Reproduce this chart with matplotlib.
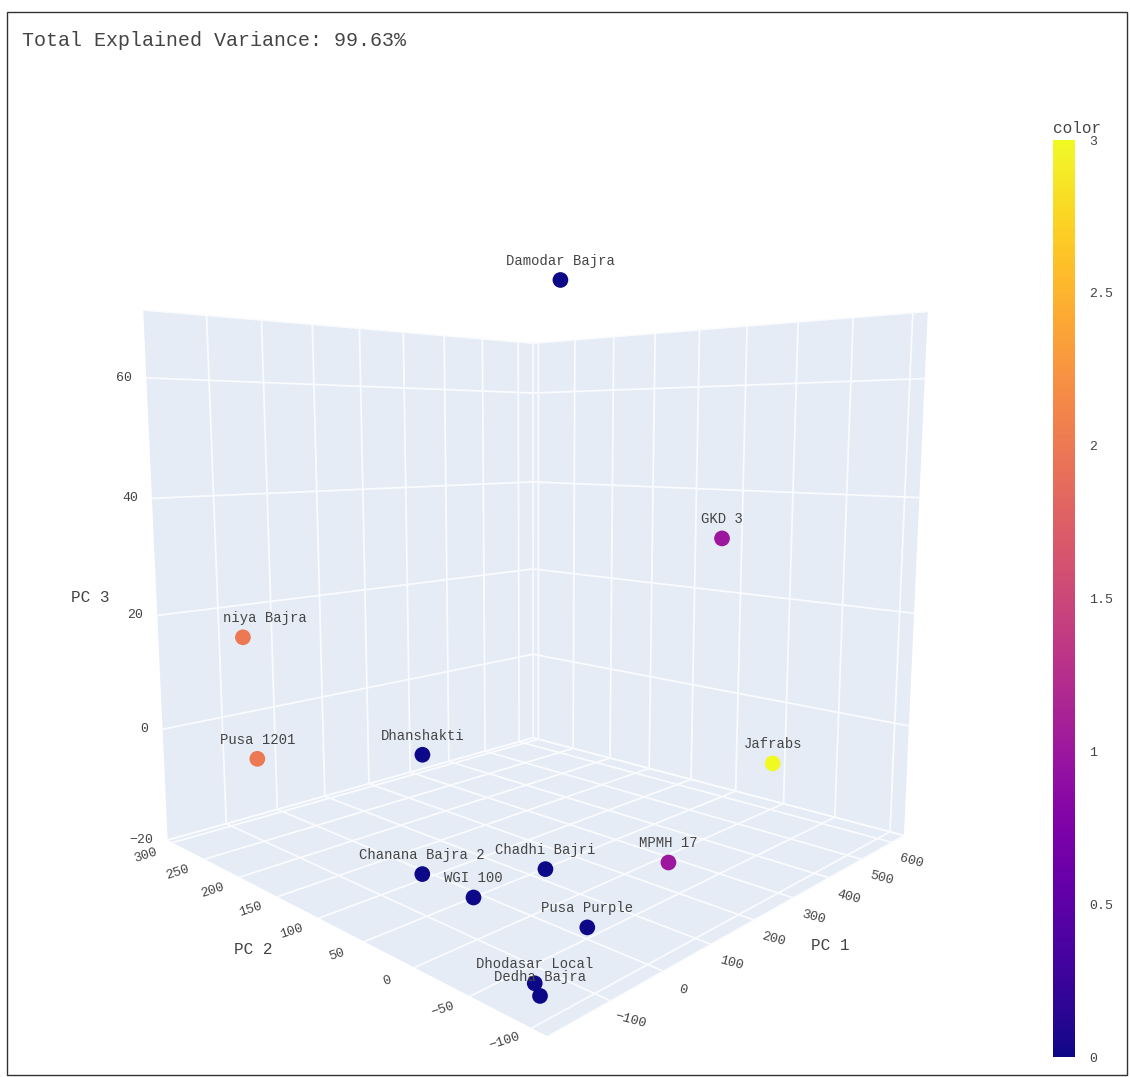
import matplotlib
matplotlib.use('Agg')
import matplotlib.pyplot as plt
from matplotlib.patches import Rectangle
from mpl_toolkits.mplot3d import proj3d

W, H = 1130, 1077

names = ['Damodar Bajra', 'GKD 3', 'niya Bajra', 'Pusa 1201', 'Dhanshakti', 'Jafrabs',
         'Chanana Bajra 2', 'WGI 100', 'Chadhi Bajri', 'MPMH 17', 'Pusa Purple',
         'Dhodasar Local', 'Dedha Bajra']
pc1 = [-36, 346, -81, -75, 21, 600, -102, -78.5, 58, 219, -27.5, -149, -153.5]
pc2 = [-42, -30, 287, 276.5, 124, -1, 53, 15, 14, -33, -62.5, -75, -81.4]
pc3 = [70.4, 34.0, 15.0, -6.9, -1.5, -10.9, -13.6, -15.5, -15.5, -16.6, -16.4, -18.6, -19.6]
cluster = [0, 1, 2, 2, 0, 3, 0, 0, 0, 1, 0, 0, 0]

x_range = (-206, 643)
y_range = (-112, 308)
z_range = (-20, 71)
x_ticks = [-100, 0, 100, 200, 300, 400, 500, 600]
y_ticks = [-100, -50, 0, 50, 100, 150, 200, 250, 300]
z_ticks = [-20, 0, 20, 40, 60]
cbar_ticks = [0, 0.5, 1, 1.5, 2, 2.5, 3]
cbar_labels = ['0', '0.5', '1', '1.5', '2', '2.5', '3']

MONO = ['Liberation Mono', 'DejaVu Sans Mono']
plt.rcParams['font.family'] = MONO
TXT = '#444444'
PANE = (229/255, 236/255, 246/255, 1.0)
GRID = (250/255, 251/255, 254/255, 1.0)


def fx(px):
    return px / W


def fy(py):
    return 1 - py / H


def tlab(v):
    return str(v).replace('-', '\u2212')


fig = plt.figure(figsize=(W/100, H/100), dpi=100)
ax = fig.add_axes([24.4/W, -19.2/H, 1000/W, 1000/H], projection='3d')
ax.patch.set_visible(False)
ax.set_proj_type('persp', focal_length=0.20424)
ax.view_init(elev=7.6, azim=-136)
ax.set_box_aspect((1, 1, 0.9884), zoom=0.8998)

sc = ax.scatter(pc1, pc2, pc3, c=cluster, cmap='plasma', vmin=0, vmax=3,
                s=128, depthshade=False, edgecolors='none', alpha=1)

ax.set_xticks(x_ticks)
ax.set_yticks(y_ticks)
ax.set_zticks(z_ticks)
ax.set_xticklabels([''] * len(x_ticks))
ax.set_yticklabels([''] * len(y_ticks))
ax.set_zticklabels([''] * len(z_ticks))
ax.set_xlim(*x_range)
ax.set_ylim(*y_range)
ax.set_zlim(*z_range)

for axis in (ax.xaxis, ax.yaxis, ax.zaxis):
    axis.set_pane_color(PANE)
    axis.pane.set_edgecolor(GRID)
    axis.line.set_color((0, 0, 0, 0))
    axis._axinfo['grid'].update(color=GRID, linewidth=1.3)
    axis._axinfo['tick'].update(inward_factor=0, outward_factor=0)

fig.canvas.draw()
M = ax.get_proj()

# point labels, placed through the axes' own 3D projection
px2, py2, _ = proj3d.proj_transform(pc1, pc2, pc3, M)
for n, a, b in zip(names, px2, py2):
    if n == 'niya Bajra':
        ax.annotate(n, (a, b), xytext=(-20, 19), textcoords='offset pixels',
                    ha='left', va='center', fontsize=10, color=TXT, annotation_clip=False)
    else:
        ax.annotate(n, (a, b), xytext=(0, 19), textcoords='offset pixels',
                    ha='center', va='center', fontsize=10, color=TXT, annotation_clip=False)

# tick labels at the projected tick positions
tk = dict(textcoords='offset pixels', fontsize=9.5, color=TXT, annotation_clip=False,
          va='center')
n = len(x_ticks)
xa, xb, _ = proj3d.proj_transform(x_ticks, [y_range[0]] * n, [z_range[0]] * n, M)
for v, a, b in zip(x_ticks, xa, xb):
    ax.annotate(tlab(v), (a, b), xytext=(20, -19), ha='center', rotation=-15, **tk)
n = len(y_ticks)
ya, yb, _ = proj3d.proj_transform([x_range[0]] * n, y_ticks, [z_range[0]] * n, M)
for v, a, b in zip(y_ticks, ya, yb):
    ax.annotate(tlab(v), (a, b), xytext=(-27, -13), ha='center', rotation=18, **tk)
n = len(z_ticks)
za, zb, _ = proj3d.proj_transform([x_range[0]] * n, [y_range[1]] * n, z_ticks, M)
for v, a, b in zip(z_ticks, za, zb):
    ax.annotate(tlab(v), (a, b), xytext=(-14, 0), ha='right', **tk)

# axis titles
fig.text(fx(90), fy(597), 'PC 3', ha='center', va='center', fontsize=11.5, color=TXT)
fig.text(fx(253), fy(950), 'PC 2', ha='center', va='center', fontsize=11.5, color=TXT)
fig.text(fx(830), fy(945), 'PC 1', ha='center', va='center', fontsize=11.5, color=TXT)

# colorbar
cax = fig.add_axes([1053/W, fy(1057), 22/W, 917/H])
cb = fig.colorbar(sc, cax=cax, ticks=cbar_ticks)
cb.outline.set_visible(False)
cb.ax.set_yticklabels(cbar_labels)
cb.ax.tick_params(length=0, labelsize=9.5, labelcolor=TXT, pad=10)
fig.text(fx(1077), fy(128), 'color', ha='center', va='center', fontsize=11.5, color=TXT)

fig.text(fx(22), fy(40), 'Total Explained Variance: 99.63%', ha='left', va='center',
         fontsize=14.4, color=TXT)

fig.patches.append(Rectangle((7/W, fy(1075)), 1120/W, 1063/H, transform=fig.transFigure,
                             fill=False, edgecolor='#333333', lw=1))

fig.savefig('out.png', dpi=100)
